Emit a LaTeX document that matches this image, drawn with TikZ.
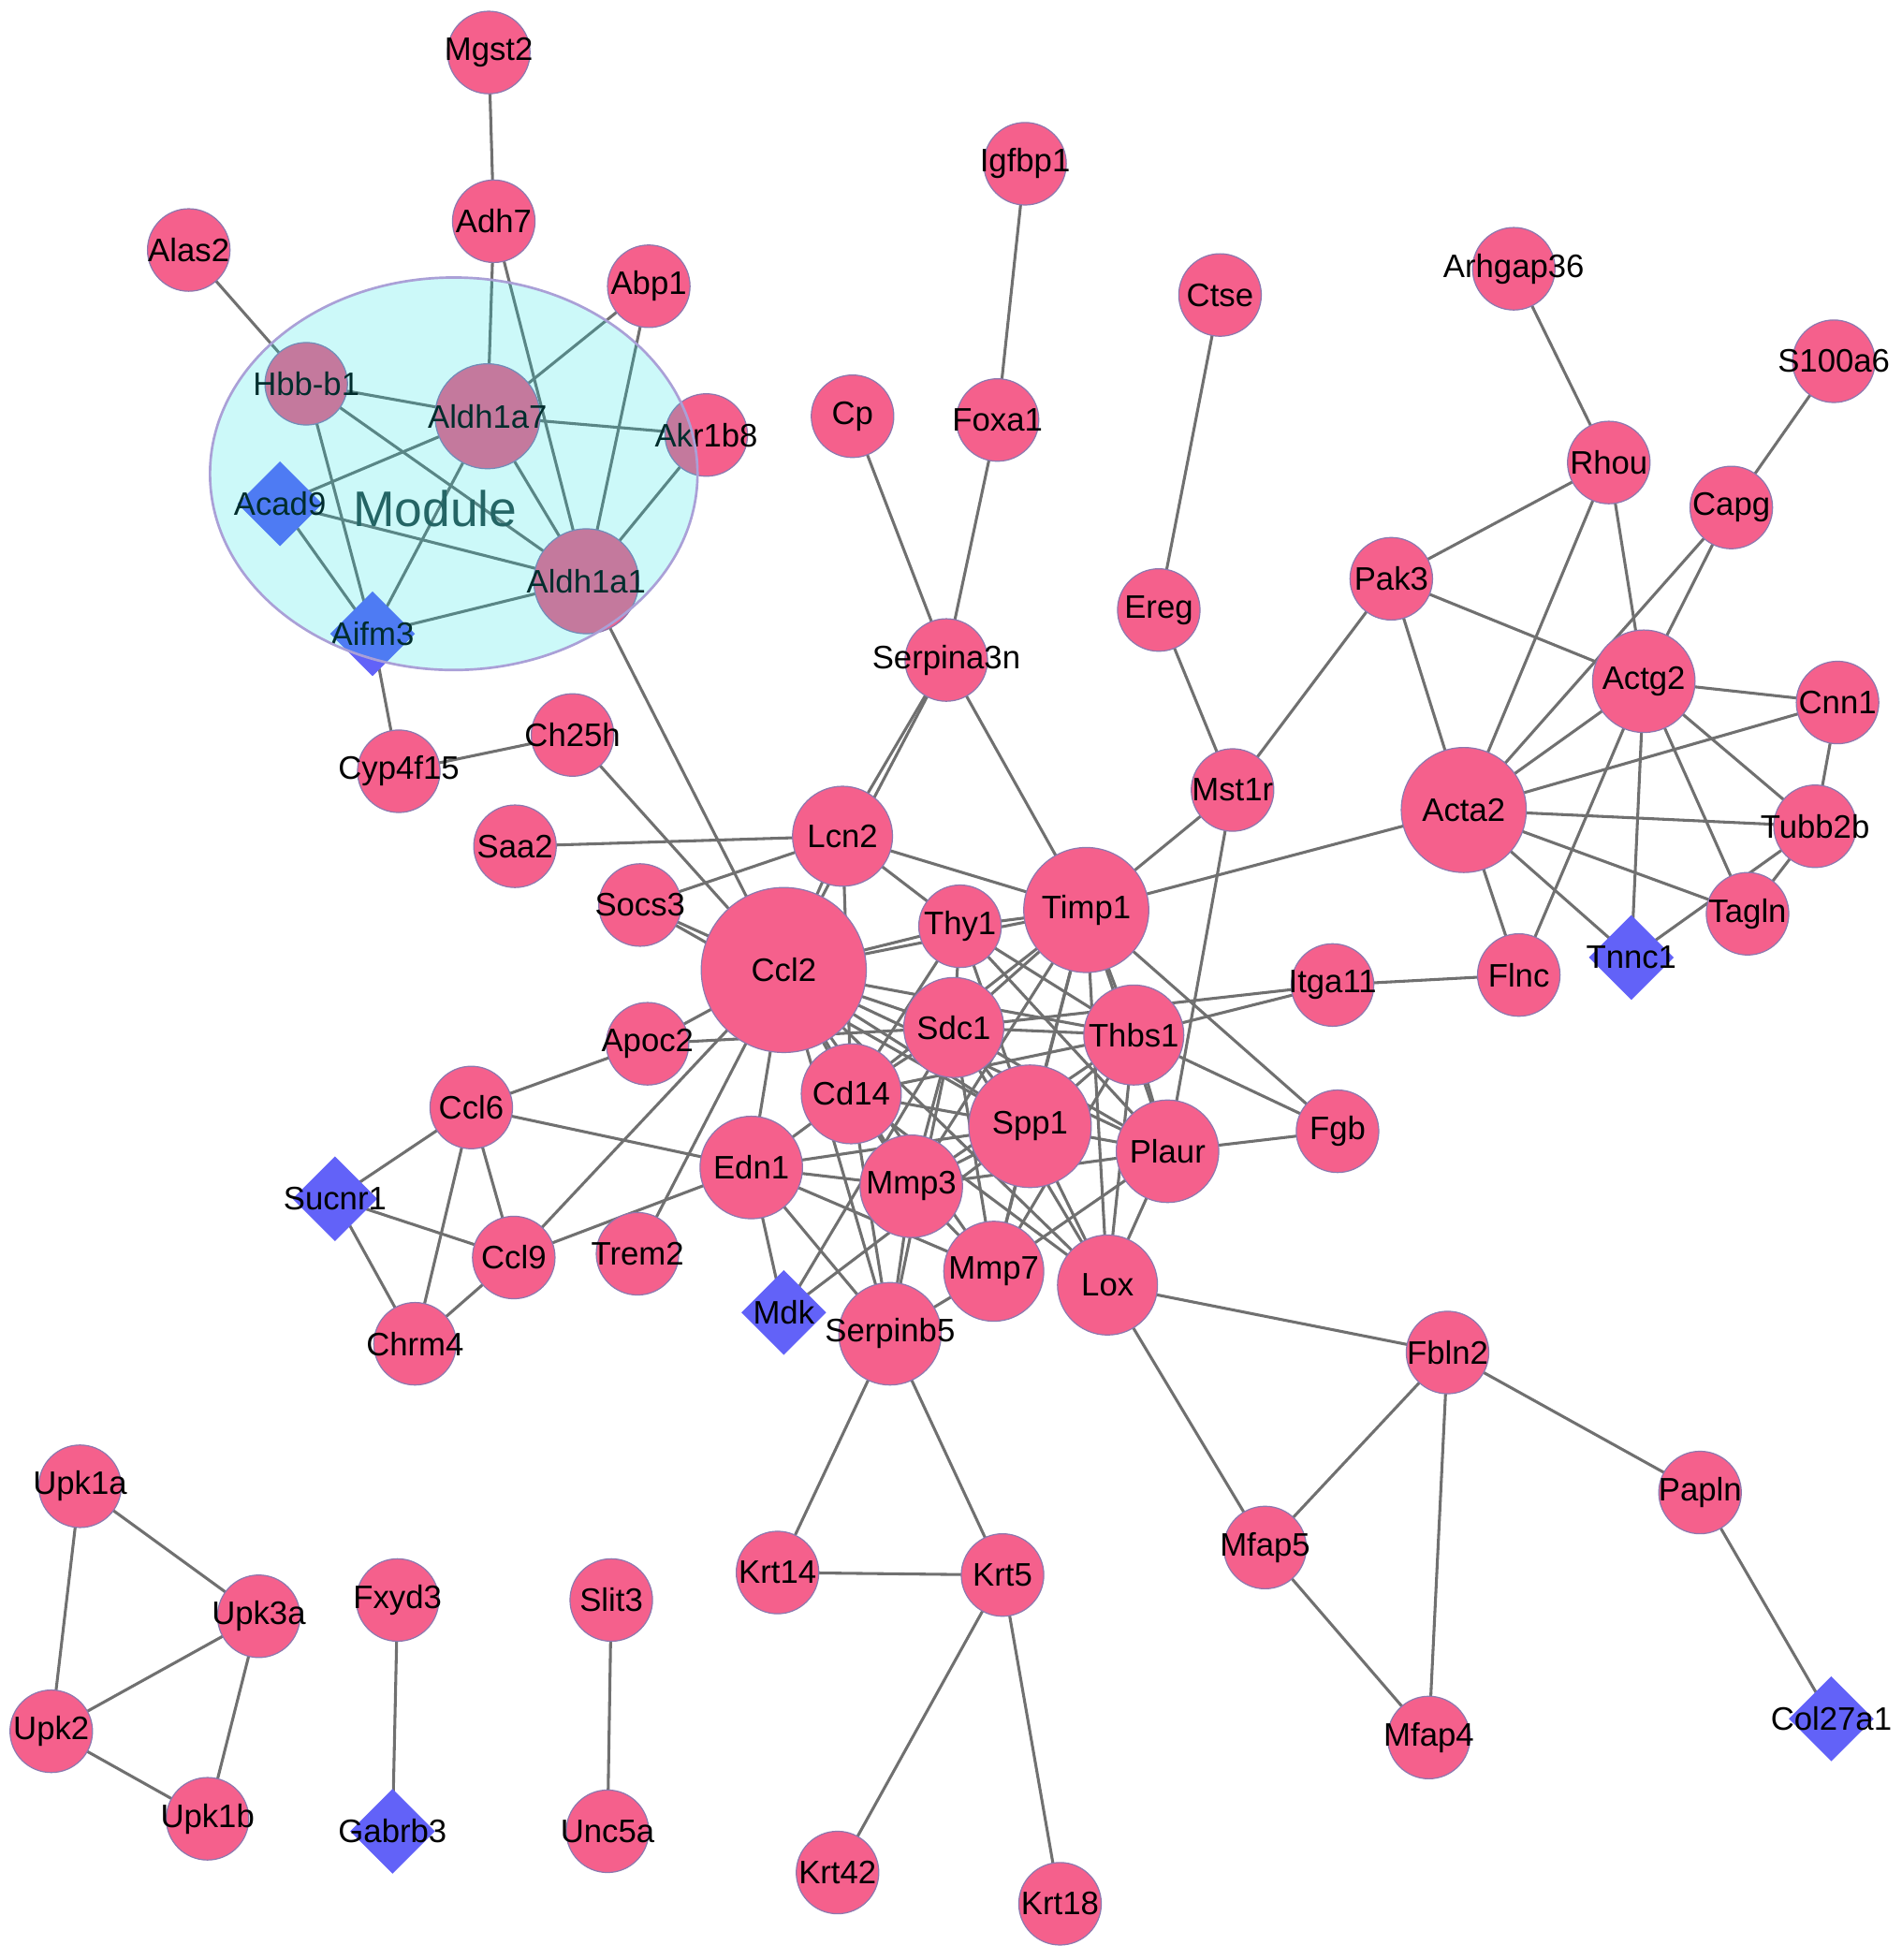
\documentclass[tikz,border=0pt]{standalone}
\usepackage{fontspec}
\setmainfont{Liberation Sans}
\usetikzlibrary{shapes.geometric,backgrounds}
\definecolor{pk}{RGB}{245,96,140}
\definecolor{bd}{RGB}{140,120,175}
\definecolor{dm}{RGB}{98,98,248}
\definecolor{edc}{RGB}{112,112,112}
\definecolor{mc}{RGB}{0,225,225}
\definecolor{mb}{RGB}{170,160,215}
\definecolor{modtxt}{RGB}{45,70,70}
\newcommand\gfont{\fontsize{26}{30}\selectfont}
\begin{document}
\begin{tikzpicture}[x=1pt,y=-1pt,
  gn/.style={circle, fill=pk, draw=bd, line width=0.9pt, inner sep=0pt, minimum size=#1},
  gn/.default=66pt,
  dn/.style={diamond, aspect=1, fill=dm, draw=none, inner sep=0pt, minimum size=68pt},
  every label/.style={font=\gfont, inner sep=0pt, text=black},
  lnk/.style={draw=edc, line width=2.3pt}]
\useasboundingbox (0,0) rectangle (1521,1568);

% nodes
\node[gn, label=center:Mgst2] (mgst2) at (391,42) {};
\node[gn, label=center:Adh7] (adh7) at (395,177) {};
\node[gn, label=center:Alas2] (alas2) at (151,200) {};
\node[gn, label=center:Abp1] (abp1) at (519,229) {};
\node[gn, label=center:Igfbp1] (igfbp1) at (820,131) {};
\node[gn, label=center:Ctse] (ctse) at (976,236) {};
\node[gn, label=center:Arhgap36] (arhgap36) at (1211,215) {};
\node[gn, label=center:S100a6] (s100a6) at (1467,289) {};
\node[gn, label=center:Hbb-b1] (hbb) at (245,307) {};
\node[gn=84pt, label=center:Aldh1a7] (aldh1a7) at (390,333) {};
\node[gn, label=center:Akr1b8] (akr1b8) at (565,348) {};
\node[gn, label=center:Cp] (cp) at (682,333) {};
\node[gn, label=center:Foxa1] (foxa1) at (798,336) {};
\node[gn, label=center:Rhou] (rhou) at (1287,370) {};
\node[gn, label=center:Capg] (capg) at (1385,406) {};
\node[dn, label=center:Acad9] (acad9) at (224,403) {};
\node[gn=84pt, label=center:Aldh1a1] (aldh1a1) at (469,465) {};
\node[gn, label=center:Ereg] (ereg) at (927,488) {};
\node[gn, label=center:Pak3] (pak3) at (1113,463) {};
\node[dn, label=center:Aifm3] (aifm3) at (298,507) {};
\node[gn, label=center:Serpina3n] (serpina3n) at (757,528) {};
\node[gn=82pt, label=center:Actg2] (actg2) at (1315,545) {};
\node[gn, label=center:Cnn1] (cnn1) at (1470,562) {};
\node[gn, label=center:Cyp4f15] (cyp4f15) at (319,617) {};
\node[gn, label=center:Ch25h] (ch25h) at (458,588) {};
\node[gn, label=center:Mst1r] (mst1r) at (986,632) {};
\node[gn=100pt, label=center:Acta2] (acta2) at (1171,648) {};
\node[gn, label=center:Tubb2b] (tubb2b) at (1452,661) {};
\node[gn, label=center:Saa2] (saa2) at (412,677) {};
\node[gn=80pt, label=center:Lcn2] (lcn2) at (674,669) {};
\node[gn, label=center:Socs3] (socs3) at (512,724) {};
\node[gn=100pt, label=center:Timp1] (timp1) at (869,728) {};
\node[gn, label=center:Thy1] (thy1) at (768,741) {};
\node[gn, label=center:Tagln] (tagln) at (1398,731) {};
\node[dn, label=center:Tnnc1] (tnnc1) at (1305,766) {};
\node[gn=132pt, label=center:Ccl2] (ccl2) at (627,776) {};
\node[gn, label=center:Flnc] (flnc) at (1215,780) {};
\node[gn, label=center:Itga11] (itga11) at (1066,788) {};
\node[gn=80pt, label=center:Sdc1] (sdc1) at (763,822) {};
\node[gn=80pt, label=center:Thbs1] (thbs1) at (907,828) {};
\node[gn, label=center:Apoc2] (apoc2) at (518,835) {};
\node[gn=80pt, label=center:Cd14] (cd14) at (681,875) {};
\node[gn, label=center:Ccl6] (ccl6) at (377,886) {};
\node[gn=98pt, label=center:Spp1] (spp1) at (824,901) {};
\node[gn, label=center:Fgb] (fgb) at (1070,905) {};
\node[gn=82pt, label=center:Plaur] (plaur) at (934,921) {};
\node[gn=82pt, label=center:Edn1] (edn1) at (601,934) {};
\node[gn=82pt, label=center:Mmp3] (mmp3) at (729,949) {};
\node[dn, label=center:Sucnr1] (sucnr1) at (268,959) {};
\node[gn, label=center:Ccl9] (ccl9) at (411,1006) {};
\node[gn, label=center:Trem2] (trem2) at (510,1003) {};
\node[gn=80pt, label=center:Mmp7] (mmp7) at (795,1017) {};
\node[gn=80pt, label=center:Lox] (lox) at (886,1028) {};
\node[dn, label=center:Mdk] (mdk) at (627,1050) {};
\node[gn=82pt, label=center:Serpinb5] (serpinb5) at (712,1067) {};
\node[gn, label=center:Chrm4] (chrm4) at (332,1075) {};
\node[gn, label=center:Fbln2] (fbln2) at (1158,1082) {};
\node[gn, label=center:Upk1a] (upk1a) at (64,1189) {};
\node[gn, label=center:Papln] (papln) at (1360,1194) {};
\node[gn, label=center:Mfap5] (mfap5) at (1012,1238) {};
\node[gn, label=center:Krt14] (krt14) at (622,1258) {};
\node[gn, label=center:Krt5] (krt5) at (802,1260) {};
\node[gn, label=center:Upk3a] (upk3a) at (207,1293) {};
\node[gn, label=center:Fxyd3] (fxyd3) at (318,1280) {};
\node[gn, label=center:Slit3] (slit3) at (489,1280) {};
\node[gn, label=center:Upk2] (upk2) at (41,1385) {};
\node[dn, label=center:Col27a1] (col27a1) at (1465,1375) {};
\node[gn, label=center:Mfap4] (mfap4) at (1143,1390) {};
\node[gn, label=center:Upk1b] (upk1b) at (166,1455) {};
\node[dn, label=center:Gabrb3] (gabrb3) at (314,1465) {};
\node[gn, label=center:Unc5a] (unc5a) at (486,1465) {};
\node[gn, label=center:Krt42] (krt42) at (670,1498) {};
\node[gn, label=center:Krt18] (krt18) at (848,1523) {};

\node[font=\fontsize{40}{44}\selectfont, text=modtxt, inner sep=0pt] (modlabel) at (348,407) {Module};

% background and edges
\begin{scope}[on background layer]
\fill[white] (0,0) rectangle (1521,1568);
\foreach \a/\b in {alas2/hbb, mgst2/adh7, adh7/aldh1a7, adh7/aldh1a1, abp1/aldh1a7, abp1/aldh1a1,
  hbb/aldh1a7, hbb/aldh1a1, hbb/aifm3, aldh1a7/akr1b8, aldh1a7/acad9, aldh1a7/aifm3,
  aldh1a7/aldh1a1, akr1b8/aldh1a1, acad9/aldh1a1, acad9/aifm3, aifm3/aldh1a1, aifm3/cyp4f15,
  aldh1a1/ccl2, cyp4f15/ch25h, ch25h/ccl2, igfbp1/foxa1, foxa1/serpina3n, cp/serpina3n,
  serpina3n/lcn2, serpina3n/ccl2, serpina3n/timp1, ctse/ereg, ereg/mst1r, mst1r/pak3,
  mst1r/timp1, mst1r/plaur,
  arhgap36/rhou, s100a6/capg, rhou/pak3, rhou/acta2, rhou/actg2, capg/actg2, capg/acta2,
  pak3/actg2, pak3/acta2, actg2/acta2, actg2/cnn1, actg2/tubb2b, actg2/tagln, actg2/tnnc1,
  actg2/flnc, cnn1/acta2, cnn1/tubb2b, acta2/tubb2b, acta2/tagln, acta2/tnnc1, acta2/flnc,
  acta2/timp1, tubb2b/tagln, tubb2b/tnnc1, flnc/itga11,
  lcn2/saa2, lcn2/socs3, socs3/ccl2, socs3/spp1, lcn2/ccl2, lcn2/thy1, lcn2/timp1, lcn2/cd14,
  apoc2/ccl6, apoc2/ccl2, apoc2/sdc1,
  ccl6/edn1, ccl6/sucnr1, ccl6/ccl9, ccl6/chrm4, sucnr1/ccl9, sucnr1/chrm4, ccl9/chrm4,
  ccl9/ccl2, ccl9/edn1, trem2/ccl2,
  edn1/ccl2, edn1/cd14, edn1/spp1, edn1/mmp3, edn1/mmp7, edn1/mdk, edn1/serpinb5,
  mdk/sdc1, mdk/spp1,
  serpinb5/mmp3, serpinb5/mmp7, serpinb5/cd14, serpinb5/ccl2, serpinb5/sdc1,
  mmp3/ccl2, mmp3/sdc1, mmp3/spp1, mmp3/timp1, mmp3/thbs1, mmp3/plaur, mmp3/cd14, mmp3/mmp7,
  mmp7/spp1, mmp7/sdc1, mmp7/plaur, mmp7/thbs1, mmp7/ccl2, mmp7/timp1,
  lox/spp1, lox/thbs1, lox/plaur, lox/timp1, lox/sdc1, lox/cd14, lox/ccl2,
  spp1/ccl2, spp1/timp1, spp1/sdc1, spp1/thbs1, spp1/plaur, spp1/cd14, spp1/thy1,
  sdc1/ccl2, sdc1/timp1, sdc1/thbs1, sdc1/thy1, sdc1/cd14, sdc1/plaur,
  thy1/ccl2, thy1/timp1, thy1/thbs1, thy1/plaur, thy1/cd14,
  timp1/ccl2, timp1/thbs1, timp1/plaur, timp1/cd14, timp1/fgb,
  thbs1/ccl2, thbs1/plaur, thbs1/cd14, thbs1/fgb, thbs1/itga11, itga11/sdc1,
  plaur/ccl2, plaur/fgb, cd14/ccl2,
  lox/fbln2, lox/mfap5, fbln2/mfap5, fbln2/mfap4, fbln2/papln, mfap5/mfap4, papln/col27a1,
  serpinb5/krt14, serpinb5/krt5, krt14/krt5, krt5/krt42, krt5/krt18,
  upk1a/upk3a, upk1a/upk2, upk3a/upk2, upk3a/upk1b, upk2/upk1b, fxyd3/gabrb3, slit3/unc5a}
  \draw[lnk] (\a.center) -- (\b.center);
\end{scope}

% module overlay
\fill[mc, opacity=0.2] (363,379) ellipse [x radius=195pt, y radius=157pt];
\draw[mb, line width=2pt] (363,379) ellipse [x radius=195pt, y radius=157pt];
\end{tikzpicture}
\end{document}
